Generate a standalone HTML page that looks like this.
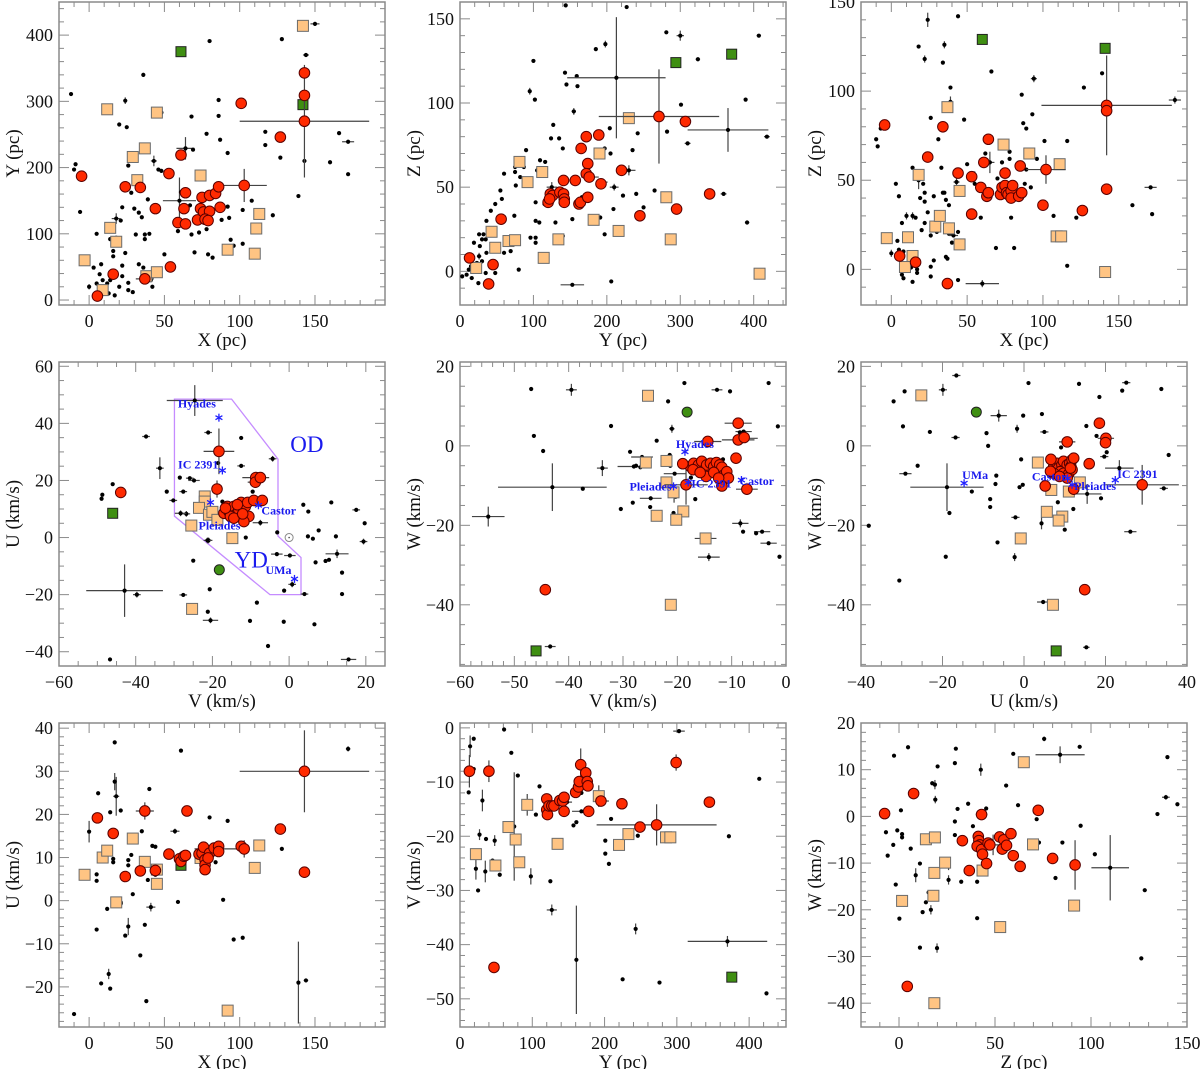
<!DOCTYPE html>
<html><head><meta charset="utf-8"><style>
html,body{margin:0;padding:0;background:#fff;}
svg{display:block;font-family:"Liberation Serif",serif;}
</style></head><body>
<svg id="chart" width="1200" height="1069" viewBox="0 0 1200 1069" xmlns="http://www.w3.org/2000/svg"></svg>
<script>
// ---- Panel 1: X vs Y ----
const p1Black=[[-12,311],[-10,197],[-9,205],[-6,133],[5,100],[3,49],[8,54],[7,39],[5,25],[9,30],[12,25],[14,30],[13,10],[17,7],[20,20],[22,36],[26,26],[26,15],[29,12],[22,52],[24,71],[16,66],[16,74],[14,92],[18,94],[22,140],[21,120],[18,123,3,8],[28,162],[26,203],[20,265],[25,261],[24,301,1,5],[36,340,0,3],[30,138],[33,132],[35,125],[31,99],[37,99],[40,100],[37,92],[39,152,0,3],[33,54],[36,49],[37,32,6,2],[41,30],[42,20],[43,210,2,8],[46,197],[48,195],[48,283],[50,69],[60,150,11,35],[61,163],[59,104],[67,143],[64,229,6,17],[68,277],[69,227],[70,72],[68,99],[73,102],[78,251],[78,107],[79,69],[82,64],[80,391],[86,302],[86,278],[87,242],[88,121],[92,141],[92,222],[93,124],[94,91],[96,82],[102,136],[102,85],[108,150],[117,254],[117,234],[122,128],[128,394],[127,215],[139,157],[143,210],[144,370,2,3],[150,417,3,2],[160,208],[166,252],[172,239,4,2],[172,190],[0,20,0,4]];
const p1Red=[[5.5,6],[16,39],[37,32],[54,50],[24,171],[34,170],[44,138],[53,191,3,7],[61,219],[64,162],[63,138],[59,117],[64,115],[72,121],[75,155],[74,138],[76,133],[80,158],[80,134],[77,122],[79,120],[84,161],[86,171],[87,140],[101,297],[103,173,15,25],[127,246],[143,270,43,85],[143,309],[143,343,0,8],[-5,187]];
const p1Tan=[[-3,60],[9,15],[14,109],[18,88],[32,181],[29,216],[37,229],[12,288],[45,283],[38,36],[45,42],[74,188],[92,76],[110,70],[111,108],[113,130],[142,414]];
const p1Green=[[61,375],[142,295]];
// ---- Panel 2: Y vs Z ----
const p2Black=[[3,-3],[9,-2],[16,-4],[25,-7],[35,-1],[15,3],[23,5],[12,1],[30,6],[36,11],[27,15],[30,19],[35,19],[26,22],[32,22],[19,17],[36,30],[42,36],[47,25],[48,-1],[48,40],[55,48],[57,43],[60,58],[60,11],[69,12],[74,33],[76,51],[75,59],[75,62],[80,1],[82,56],[87,62],[90,72],[96,20],[95,107,0,2],[100,125],[102,102],[103,41],[103,30],[103,20],[103,17],[105,60],[108,29],[109,66],[116,65],[115,40],[124,79],[127,87],[130,29],[135,79],[140,73],[140,21],[143,118],[145,111],[153,31],[159,116],[160,110],[166,44],[185,132],[191,32],[197,22],[197,73],[204,85],[205,70],[209,37],[206,-6],[222,45],[227,157],[235,72],[242,82],[240,46],[250,38],[265,48],[281,142],[282,83],[301,99],[324,126,3,0],[391,29,3,0],[407,140,3,0],[418,80,4,0],[389,102],[144,158],[359,46,4,0],[310,76,4,1],[213,115,67,36],[365,84,55,13],[153,-8,16,1],[300,140,5,3],[155,95,3,2],[198,135,2,2],[230,60,9,3],[193,53,8,2],[210,50,6,2],[125,50,7,3],[177,56,12,2],[26,9,3,2]];
const p2Red=[[13,8],[39,-7.5],[45,4],[56,31],[120,41],[123,46],[126,45],[122,43],[136,47],[141,46],[142,43],[141,54],[142,41],[157,54],[162,40],[164,41],[165,73],[172,80],[174,44],[174,64],[172,58],[176,56],[189,81],[192,52],[220,60],[245,33],[271,92,82,28],[295,37],[307,89,5,1],[340,46]];
const p2Tan=[[22,2],[43,23.5],[48,14],[66,18],[75,18.5],[81,65],[92,53],[112,59],[114,8],[134,19],[182,30.6],[190,70],[216,24],[230,91],[281,44],[287,19],[408,-1.4]];
const p2Green=[[294,124],[370,129]];
// ---- Panel 3: X vs Z ----
const p3Black=[[-10,73],[-9,69],[-7,79],[3,48],[5,41],[4,16],[5,11],[8,10],[0,9,0,2],[7,-3],[8,-5],[14,-7],[13,1],[16,2],[17,0],[17,-2],[7,26],[10,30,0,2],[14,30,0,2],[16,29],[14,57],[19,40],[21,48],[22,43],[22,38],[22,26],[20,22],[24,32],[26,-4],[26,1.5],[28,5],[26,19],[30,21],[28,41],[31,73],[26,85],[18,125],[22,118,0,2],[34,116],[35,126,0,2],[44,142],[33,57],[34,43],[35,43],[36,39],[36,7],[37,6],[38,36],[38,20],[40,20],[40,15],[44,21],[44,-6],[39,102],[39,94,0,3],[48,84],[50,59],[55,48],[59,29],[62,65],[69,12],[66,111],[70,51],[73,60],[78,66],[78,62],[79,29],[81,12],[86,98],[87,82],[89,79],[93,87],[94,107,2,2],[89,56],[88,48],[92,46],[96,62],[101,72],[107,30],[116,72],[116,2],[122,29],[127,102],[139,110],[159,36],[171,46,4,1],[172,31],[60,-8,11,2],[24,140,1,4],[187,95,4,2],[65,60,3,6],[18,50,1,5],[43,49,2,2],[41,19,3,1],[55,52,1,3]];
const p3Red=[[-4.4,81],[5.5,7.5],[16,4],[24,63],[34,80],[37,-8,3,0],[44,54],[53,52,3,3],[53,31],[59,46],[61,60],[63,41],[64,43],[64,73],[72,42],[73,46],[75,47],[75,54],[76,43],[77,42],[79,44],[79,40],[80,47],[84,41],[85,58],[86,43],[100,36],[102,56,13,8],[126,33],[142,92,43,28],[142,89],[142,45]];
const p3Tan=[[-3,17.5],[9,1.3],[11,18],[14,7.5],[18,53],[29,24],[32,30],[37,91],[38,23],[45,44],[45,14],[74,70],[91,65],[109,18.5],[112,18.5],[111,59],[141,-1.5]];
const p3Green=[[60,129],[141,124]];
// ---- Panel 4: V vs U ----
const p4Black=[[-37.3,35.4,1,0.7],[-48.9,13.6],[-48.7,15],[-46,18.7],[-46.7,-42.7],[-31.9,16.1],[-30.2,13,1,0.7],[-27.6,16.1,1,0],[-28.5,21],[-25.9,20.8,1,0],[-24.8,20,1.5,0],[-26.8,8.3,1,1],[-25,-8.1],[-27.6,-20.1,1,0],[-21.2,-26],[-21,-1,1,1],[-20.7,-18.1],[-21.1,36.8,1,0],[-18.5,26.1],[-17.4,12.6],[-12.5,34.9],[-12.5,25.1,1,0],[-11.3,0],[-10.2,-29.2],[-9.5,16.1],[-8.4,-22.8],[-5.5,-38],[-3.1,1.8],[-3.2,-5.8,1.5,0],[0.2,-6.3,1.5,0],[-1.3,-18.6],[-1.4,-29.5],[3.7,11.5],[5,9.1],[4.9,0.4],[6.2,-0.4],[6.9,-8.7],[7.7,2.5],[9.5,-8.2],[10.4,-7.8],[11,12.3],[12.2,0.4],[13.8,-12.3],[13.8,-19.8],[17.5,9.7,1,0],[19.7,5],[4,-19.8,1,0],[6.6,-30.4],[-19.6,8],[-42.9,-18.6,10,9.2],[-24.6,48,7.3,5.4],[-33.7,24.3,1,3.8],[-39.7,-20,1,1],[-20.5,-29,2,1],[-4.3,27.6,1,1],[12.5,-5.7,3,1.5],[0.8,-16.4,1,1],[19.4,-1.4,1,1],[15.5,-42.7,2,0],[-28.3,8.5,1.5,1],[-21.3,-1,1,1],[-7.5,5.2,2,1]];
const p4Red=[[-17,8.5],[-16.1,10.9],[-15.7,9.1],[-15.1,9.7],[-14.4,10.9],[-14,8],[-13.1,9.7],[-12.5,12.3],[-11.4,10.9],[-10.8,12.3],[-10.5,7.4],[-9.2,13],[-7,13],[-11.8,5.6],[-15.3,7.4],[-14.4,6.8],[-16.6,10.3],[-13.5,11.5],[-12.1,8.3],[-43.9,15.8],[-18.3,30.2,4,8],[-18.8,17,0,3],[-8.7,21,3.5,1],[-8.8,19.4,2,1],[-7.5,21]];
const p4Tan=[[-22,14.4],[-22,12.6],[-23.5,10.4],[-20.9,8],[-20,9],[-18.7,6.2],[-25.5,4.2],[-14.8,-0.2],[-25.3,-25]];
const p4Green=[[-46,8.5]];
const p4GreenCircle=[[-18.2,-11.3]];
const p4Poly=[[-29.9,48.5],[-15,48.5],[-2.9,27.5],[-2.9,0.5],[3.1,-7],[3.1,-20],[-5,-20],[-29.9,7.5]];
const p4Groups=["Hyades","IC 2391","Pleiades","Castor","UMa"];
const p4GroupV=[-18.3,-17.4,-20.5,-8,1.4];
const p4GroupU=[42,23.5,12.3,11.3,-14.5];
// ---- Panel 5: V vs W ----
const p5Black=[[-54.8,-17.8,3,2.5],[-43,-10.4,10,6],[-39.5,14.1,1,1.5],[-33.8,-5.6,1,2],[-43.4,-50.5,1,0],[-21,4.3,0.5,1],[-26.5,-2.8,2,0],[-28,-5.2,3,0],[-24.9,-13.2,2,0.5],[-20.5,-7,2,0],[-20.6,-12.5,0,1.8],[-14.2,-28,2,1],[-8.4,-19.5,1.5,1],[-7.2,1.9,2,0],[-7.8,3.6,1.5,0],[-3.2,-24.5,1.5,0],[-4.4,-21.6,1.5,0],[-12.7,14.1,1,0],[-46.9,14.3],[-46.4,2.5],[-44.7,-1.3],[-37.4,-10.8],[-32.2,5],[-30.4,-15.9],[-28.2,-14.3],[-28.7,-1.5],[-27.6,-5],[-26.8,-5.4],[-25,-15.4],[-23.8,1.3],[-21.7,11.2],[-21.4,-2.3],[-21.3,-5],[-20.7,-16.9],[-20.3,-12.8],[-18.7,15.8],[-17.5,-8],[-16.7,-13.4],[-11.6,-3.4],[-10.3,13.7],[-9.6,-3.7],[-7.9,-21.6],[-8.5,3.4],[-5.5,-22],[-3.2,15.8],[-1.5,4.9],[-1.2,-27.9]];
const p5Red=[[-17.6,-5.2],[-17,-4.4],[-16.5,-5.6],[-16.1,-4.8],[-15.5,-3.9],[-15,-6],[-14.6,-4.8],[-13.9,-4.4],[-13.3,-5.2],[-12.8,-4.2],[-12.2,-4.8],[-11.8,-5.4],[-11.4,-7.3],[-10.9,-6.5],[-10.6,-8.1],[-14.7,-7.7],[-11.8,-10.1],[-17.1,-6],[-15.8,-6.7],[-13.3,-6.7],[-12.4,-8.1],[-44.3,-36.2,1,0],[-19,-4.5],[-18.4,-9.8,4,5],[-14.4,1.1,2.5,1],[-8.8,5.7,2.5,1],[-8.8,1.5,3,0],[-7.7,2.1],[-9.2,-3.1],[-7.2,-10.9,2,0]];
const p5Tan=[[-25.4,12.6],[-25.8,-4.2],[-22,-3.8],[-22,-9.2],[-20.7,-11.7],[-23.8,-17.6],[-18.9,-16.5],[-20.2,-18.6],[-14.8,-23.3,2,1],[-21.2,-40]];
const p5Green=[[-46,-51.6]];
const p5GreenCircle=[[-18.2,8.5]];
const p5Groups=["Hyades","Pleiades","IC 2391","Castor"];
const p5GroupV=[-18.6,-20.7,-18,-8.2];
const p5GroupW=[-1.5,-10.2,-9.2,-8.6];
// ---- Panel 6: U vs W ----
const p6Black=[[-18.9,-10.4,9,6],[-19.9,14.1,1,1.5],[-6.2,7.6,2,1.5],[-1.7,4.3,0.5,1],[5,3.5,1,0],[-29.1,-7,1.5,0],[-16.8,2.1,1,0],[23.4,-5.6,3.5,2],[15.5,-12.1,3.5,2.5],[26.1,-21.6,1.5,0],[15.3,-50.7,0.8,0],[4.7,-39.3,1.5,0],[-2.3,-28,0,1],[4.3,-19.5,0,1.5],[19.7,-2.7,1,0],[-2.1,-18,1,0],[25.1,15.9,1,0],[-16.6,17.7,1,0],[34.3,-10.7,1,0],[-32,11.2],[-29.3,13.7],[-29.7,4.9],[-26.1,-5],[-38.1,-20.1],[-30.6,-33.9],[-23.1,3.5],[-19.2,-27.9],[-18.3,-16.9],[-12.8,-11.5],[-9.2,3.2],[-8.8,0],[-8.3,-13.4],[-8.3,-15.4],[-7,-9.6],[-6.8,-7.5],[-6.5,-24.3],[-1.1,-10.4],[-0.3,-9.8],[-0.7,-3.4],[-0.2,7.6],[1.1,15.8],[4.4,8],[10,-21.1],[9.1,-0.4],[8.3,-14.2],[12.1,-15.9],[13.5,15.6],[15.3,5],[17.8,2.5],[18.5,12.3],[20.3,-1.6],[18.9,-13.2],[24.1,13.9],[33.7,14.3],[35.5,-2.3]];
const p6Red=[[7.3,-5.2],[8.1,-4.4],[8.5,-5.6],[9.3,-4.8],[9.7,-3.9],[10.2,-6],[10.6,-4.8],[11.2,-4.4],[11.5,-5.2],[11.8,-3.5],[12.2,-3.1],[8.9,-6.5],[9.7,-6.9],[11,-7],[11.8,-6],[7.3,-6.9],[10.6,-8.1],[11.4,-5.6],[14.9,-36.2],[18.5,5.7,0,1],[20.1,1.9,2,1],[20,0.8],[10.6,1,2,0.8],[16,-4.5],[6.6,-3.4],[6.5,-6.4],[5.2,-10.1],[8.7,-7.7],[12.2,-10.9],[29,-9.8,9,5]];
const p6Tan=[[-25.2,12.7],[3.4,-4.2],[6.7,-11.1],[13.7,-9.2],[11,-11.5],[5.6,-16.6],[9.4,-17.8],[8.5,-18.8],[-0.8,-23.3,0,1],[7.1,-40]];
const p6Green=[[7.9,-51.6]];
const p6GreenCircle=[[-11.7,8.5]];
const p6Groups=["UMa","Castor","Pleiades","IC 2391"];
const p6GroupU=[-14.7,10.7,11.8,22.4];
const p6GroupW=[-9.4,-8.2,-9.8,-8.6];
// ---- Panel 7: X vs U ----
const p7Black=[[139,-19,0,9.5],[172,35.2,1.5,0.6],[18,24.2,2,4.5],[0,16,0,2.5],[41,-1.5,3,1],[57,16.1,3,0.6],[26,-6,0,2],[13,-17,0,1.2],[17,27.6,0,2],[87,12,17,0],[-10,-26.3],[5,-6.7],[5,4.6],[5,6.1],[6,24.9],[8,-19.2],[12,-1.9],[14,20.5],[14,-20.4],[16,8.9],[16,9.7],[17,36.7],[21,20.9],[21,-0.4],[21,-0.7],[24,-8.1],[26,8.2],[26,9.4],[28,10.6],[29,1.5],[31,14.1],[34,-12.7],[35,16.1],[37,-5.6],[38,-23.3],[39,4.8],[40,25.9],[42,12.7],[44,12.5],[44,6],[59,-0.3],[61,34.8],[80,19.3],[84,8.9],[89,0.2],[92,18.5],[96,-9],[102,-8.6],[128,12],[144,-18.5,1.5,0]];
const p7Red=[[5.5,19.2],[16,15.6],[24,5.6],[34,6.9],[37,20.8,6,2],[44,7],[53,10.8],[60,9.7],[61,9.1],[63,10.3],[64,10.5],[65,20.8,0,1],[73,10.8],[75,11],[76,12.4],[77,9.5],[77,8.3],[77,7.2],[80,11],[79,9.9],[83,12.2],[86,12.6],[86,11.4],[101,12.6],[103,12,0,2],[127,16.6],[143,30,43,9.5],[143,6.6]];
const p7Tan=[[-3,6],[9,10],[12,11.6],[29,14.4],[18,-0.4],[37,9],[45,3.9],[45,7.2],[74,9.9],[92,-25.5],[110,7.6],[113,12.8]];
const p7Green=[[61,8.2]];
// ---- Panel 8: Y vs V ----
const p8Black=[[161,-42.8,0,10],[75,-18.2,0,10],[127,-33.6,7,1],[370,-39.4,55,1],[303,-0.6,8,0],[243,-37.1,0,1],[424,-49,2,0],[14,-3.4,0,2],[31,-13.4,0,2],[22,-26,0,2],[35,-26.5,0,2],[27,-19.7,2,1],[48,-20.8,0,1],[198,-13.5,8,0],[168,-15.4,13,0],[148,-13.7,7,0],[98,-27.4,0,1.5],[12,-11.9],[19,-2],[19,-7.6],[25,-30],[36,-20.5],[45,-24.5],[55,-27.1],[61,-0.3],[71,-4.6],[80,-8.8],[105,-16],[110,-10.8],[125,-28.3],[157,-18],[161,-17.4],[168,-12],[209,-16.8],[201,-20.8],[201,-23.2],[206,-25.1],[225,-46.4],[246,-19.9],[276,-47],[372,-20],[414,-9.4]];
const p8Red=[[13,-8,0,3],[40,-8,0,2],[47,-44.2],[120,-13.1],[120,-15.1],[121,-16],[123,-14.4],[127,-14.4],[130,-14.4],[138,-13.4],[142,-13.5],[144,-12.8],[144,-15.4],[160,-11.9],[164,-10.9],[165,-9.9],[167,-6.8,0,3],[174,-8.3],[176,-9.9],[177,-10.7],[178,-15.4],[195,-13.5],[224,-14],[249,-18.3],[272,-17.9,83,3.8],[299,-6.4,0,1.5],[345,-13.7]];
const p8Tan=[[22,-23.3],[49,-25.4],[67,-18.3],[77,-20.6],[82,-24.8],[93,-14.2,0,2],[135,-21.4],[192,-12.6,0,2],[220,-21.6],[233,-19.6],[285,-20.2],[291,-20.2]];
const p8Green=[[376,-46]];
// ---- Panel 9: Z vs W ----
const p9Black=[[110,-11,9.8,7],[49,-6.1,9.7,2.2],[83.9,13.2,12.8,1.8],[42.6,10,0,1.3],[8.7,-12.6,0,1.5],[18.7,6.8,0,1],[18.9,3.6,1,0.8],[30.5,1.6,1,0],[19.8,-28.2,0,1],[16.6,-20,0,1],[75.6,16.6,1,0.5],[94.1,14.9,1,0],[94.6,-2,1,0],[102,-8.1,1,0],[126.2,-30.4,1,0],[128,-15.8,1,0],[139,4.1,2,0.5],[134.6,0.5,1,0],[145,2.6,1,0],[139.8,12.7],[25.8,-13.6,0,1],[25.8,-10.5,0,1],[-2.6,13],[4.7,14.8],[-6.8,-3.4],[-5.9,-8.4],[-3,-6.1],[-0.9,-3],[0.2,-21.9],[-1.7,-14.6],[1,1.3],[1.6,-3.8],[1.6,-4.5],[6.1,-6.9],[10.9,-10.1],[10.9,-28.1],[12.3,-20.5],[14,-18.4],[15.4,-16.3],[17.3,7.1],[20.1,10.7],[29.1,11.4],[29.6,14.5],[29.1,-1.1],[29.1,-4],[32.4,-14],[36,2.7],[38.5,-2.1],[40.7,-21.8],[40.7,-14],[45.4,1.7],[45.6,-11.2],[55.8,6.6],[59.5,13.4],[62,2.4],[71.7,-0.6],[72.9,-5.6],[81.5,-13.2],[85.1,-5.6]];
const p9Red=[[-7.5,0.6],[7.6,4.9,0,1.2],[4.3,-36.4],[33,-5.2],[36.6,-11.6],[43,0.4,3,1],[41.3,-4.3],[41.6,-5.2],[42.1,-6.1],[40.7,-6.4],[43,-7.1],[43.5,-8.1],[45.6,-10.1],[46.4,-5.7],[47.3,-6.1],[52.4,-4.4],[54.6,-5],[53.8,-7],[56,-6.2],[58.3,-3.7],[59.5,-8.4],[63.1,-10.7],[72.5,1.3,0,1],[80,-9],[91.7,-10.4,0,5.3]];
const p9Tan=[[1.6,-18.1],[14,-4.9],[18.7,-4.5],[18.4,-12.1],[17.9,-17],[18.4,-40],[24,-9.9],[43.5,-11.6],[52.7,-23.7,0,1],[65,11.6],[69.8,-6],[91.2,-19.1]];

const NS="http://www.w3.org/2000/svg";
const svg=document.getElementById('chart');
function mk(tag,attrs,parent){const e=document.createElementNS(NS,tag);for(const k in attrs)e.setAttribute(k,attrs[k]);(parent||svg).appendChild(e);return e;}
const bg=mk('rect',{x:0,y:0,width:1200,height:1069,fill:'#fff'});



const COLS=[[59,385],[460,786],[861,1187]];
const ROWS=[[2,305],[362,666],[723,1027]];
function fmt(v){return v<0?'\u2212'+Math.abs(v):String(v);}

const panels=[
 {id:'xy',c:0,r:0,x0:-20,x1:196.5,y0:-7.5,y1:450,xt:[0,50,100,150],xm:10,yt:[0,100,200,300,400],ym:20,xl:'X (pc)',yl:'Y (pc)',black:p1Black,red:p1Red,tan:p1Tan,green:p1Green},
 {id:'yz',c:1,r:0,x0:0,x1:444,y0:-20,y1:160,xt:[0,100,200,300,400],xm:20,yt:[0,50,100,150],ym:10,xl:'Y (pc)',yl:'Z (pc)',black:p2Black,red:p2Red,tan:p2Tan,green:p2Green},
 {id:'xz',c:2,r:0,x0:-20,x1:195,y0:-20,y1:150,xt:[0,50,100,150],xm:10,yt:[0,50,100,150],ym:10,xl:'X (pc)',yl:'Z (pc)',black:p3Black,red:p3Red,tan:p3Tan,green:p3Green},
 {id:'vu',c:0,r:1,x0:-60,x1:25,y0:-45,y1:61.5,xt:[-60,-40,-20,0,20],xm:5,yt:[-40,-20,0,20,40,60],ym:5,xl:'V (km/s)',yl:'U (km/s)',black:p4Black,red:p4Red,tan:p4Tan,green:p4Green,gc:p4GreenCircle,poly:p4Poly,gn:p4Groups,gx:p4GroupV,gy:p4GroupU},
 {id:'vw',c:1,r:1,x0:-60,x1:0,y0:-55.4,y1:21.1,xt:[-60,-50,-40,-30,-20,-10,0],xm:2,yt:[-40,-20,0,20],ym:5,xl:'V (km/s)',yl:'W (km/s)',black:p5Black,red:p5Red,tan:p5Tan,green:p5Green,gc:p5GreenCircle,gn:p5Groups,gx:p5GroupV,gy:p5GroupW},
 {id:'uw',c:2,r:1,x0:-40,x1:40,y0:-55.4,y1:21.1,xt:[-40,-20,0,20,40],xm:5,yt:[-40,-20,0,20],ym:5,xl:'U (km/s)',yl:'W (km/s)',black:p6Black,red:p6Red,tan:p6Tan,green:p6Green,gc:p6GreenCircle,gn:p6Groups,gx:p6GroupU,gy:p6GroupW},
 {id:'xu',c:0,r:2,x0:-20,x1:196.5,y0:-29.3,y1:41.2,xt:[0,50,100,150],xm:10,yt:[-20,-10,0,10,20,30,40],ym:2,xl:'X (pc)',yl:'U (km/s)',black:p7Black,red:p7Red,tan:p7Tan,green:p7Green},
 {id:'yv',c:1,r:2,x0:0,x1:451,y0:-55.2,y1:0.9,xt:[0,100,200,300,400],xm:20,yt:[-50,-40,-30,-20,-10,0],ym:2,xl:'Y (pc)',yl:'V (km/s)',black:p8Black,red:p8Red,tan:p8Tan,green:p8Green},
 {id:'zw',c:2,r:2,x0:-19.8,x1:150,y0:-45.1,y1:20,xt:[0,50,100,150],xm:10,yt:[-40,-30,-20,-10,0,10,20],ym:2,xl:'Z (pc)',yl:'W (km/s)',black:p9Black,red:p9Red,tan:p9Tan,green:[]}
];

panels.forEach(p=>{
 const L=COLS[p.c][0],R=COLS[p.c][1],T=ROWS[p.r][0],B=ROWS[p.r][1];
 const sx=v=>L+(v-p.x0)/(p.x1-p.x0)*(R-L);
 const sy=v=>B-(v-p.y0)/(p.y1-p.y0)*(B-T);
 const g=mk('g',{});
 
 
 const fr=mk('rect',{x:L,y:T,width:R-L,height:B-T,fill:'none',stroke:'#8a8a8a','stroke-width':1.5},g);
 
 
 const tg=mk('g',{stroke:'#8a8a8a','stroke-width':1},g);
 
 
 const xs=Math.ceil(p.x0/p.xm)*p.xm;
 for(let v=xs;v<=p.x1+1e-9;v+=p.xm){const x=sx(v);const maj=p.xt.some(t=>Math.abs(t-v)<1e-6);const len=maj?10:5;
  mk('line',{x1:x,y1:B,x2:x,y2:B-len},tg);mk('line',{x1:x,y1:T,x2:x,y2:T+len},tg);}
 const ys=Math.ceil(p.y0/p.ym)*p.ym;
 for(let v=ys;v<=p.y1+1e-9;v+=p.ym){const y=sy(v);const maj=p.yt.some(t=>Math.abs(t-v)<1e-6);const len=maj?10:5;
  mk('line',{x1:L,y1:y,x2:L+len,y2:y},tg);mk('line',{x1:R,y1:y,x2:R-len,y2:y},tg);}
 p.xt.forEach(v=>{const t=mk('text',{x:sx(v),y:B+22,'text-anchor':'middle','font-size':18,fill:'#111'},g);t.textContent=fmt(v);
  
  });
 p.yt.forEach(v=>{const t=mk('text',{x:L-6,y:sy(v)+6,'text-anchor':'end','font-size':18,fill:'#111'},g);t.textContent=fmt(v);
  
  });
 const xt=mk('text',{x:(L+R)/2,y:B+41,'text-anchor':'middle','font-size':19,fill:'#111'},g);xt.textContent=p.xl;
 
 
 const yx=L-40,yy=(T+B)/2;
 const yt=mk('text',{x:yx,y:yy,'text-anchor':'middle','font-size':19,fill:'#111',transform:`rotate(-90 ${yx} ${yy})`},g);yt.textContent=p.yl;
 
 
 if(p.poly){const pts=p.poly.map(q=>sx(q[0])+','+sy(q[1])).join(' ');
  const pg=mk('polygon',{points:pts,fill:'none',stroke:'#c58cff','stroke-width':1.3},g);
  
  
  const od=mk('text',{x:sx(0.3),y:sy(30),'font-size':23,fill:'#1a1aee'},g);od.textContent='OD';
  
  
  const yd=mk('text',{x:sx(-14.2),y:sy(-10.5),'font-size':23,fill:'#1a1aee'},g);yd.textContent='YD';
  
  
  const sun=mk('circle',{cx:sx(0),cy:sy(0),r:4,fill:'none',stroke:'#888'},g);
  
  
  mk('circle',{cx:sx(0),cy:sy(0),r:0.8,fill:'#444'},g);}
 function ebar(d,gg){if(d.length>2){const x=sx(d[0]),y=sy(d[1]);
  if(d[2])mk('line',{x1:sx(d[0]-d[2]),y1:y,x2:sx(d[0]+d[2]),y2:y,stroke:'#444','stroke-width':1.2},gg);
  if(d[3])mk('line',{x1:x,y1:sy(d[1]-d[3]),x2:x,y2:sy(d[1]+d[3]),stroke:'#444','stroke-width':1.2},gg);}}
 const bgp=mk('g',{},g);
 
 
 p.black.forEach(d=>{ebar(d,bgp);const c=mk('circle',{cx:sx(d[0]),cy:sy(d[1]),r:2.1,fill:'#000'},bgp);
  
  });
 const tgp=mk('g',{},g);
 
 
 p.tan.forEach(d=>{ebar(d,tgp);const s=mk('rect',{x:sx(d[0])-5.5,y:sy(d[1])-5.5,width:11,height:11,fill:'#ffc483',stroke:'#6b6b6b','stroke-width':1},tgp);
  
  });
 const ggp=mk('g',{},g);
 
 
 p.green.forEach(d=>{const s=mk('rect',{x:sx(d[0])-5,y:sy(d[1])-5,width:10,height:10,fill:'#3f8f12',stroke:'#222','stroke-width':1},ggp);
  
  });
 (p.gc||[]).forEach(d=>{const s=mk('circle',{cx:sx(d[0]),cy:sy(d[1]),r:5,fill:'#3f8f12',stroke:'#222','stroke-width':1},ggp);
  
  });
 const rgp=mk('g',{},g);
 
 
 p.red.forEach(d=>ebar(d,rgp));
 p.red.forEach(d=>{const s=mk('circle',{cx:sx(d[0]),cy:sy(d[1]),r:5.3,fill:'#ff2a00',stroke:'#5a0000','stroke-width':1},rgp);
  
  });
 if(p.gn){const mg=mk('g',{},g);
  
  
  p.gn.forEach((n,i)=>{const x=sx(p.gx[i]),y=sy(p.gy[i]);
   for(let a=0;a<3;a++){const an=a*Math.PI/3+Math.PI/2;mk('line',{x1:x-4*Math.cos(an),y1:y-4*Math.sin(an),x2:x+4*Math.cos(an),y2:y+4*Math.sin(an),stroke:'#2020ff','stroke-width':1.3},mg);}
   let tx=x-4,ty=y-7,anc='end';
   if(p.id==='vu'){if(n==='Hyades'){tx=x-3;ty=y-10;}else if(n==='IC 2391'){tx=x-4;ty=y-2;}else if(n==='Pleiades'){tx=x+30;ty=y+27;}else if(n==='Castor'){tx=x+3;ty=y+9;anc='start';}else{tx=x-3;ty=y-5;}}
   if(p.id==='vw'){if(n==='Hyades'){tx=x+10;ty=y-4;anc='middle';}else if(n==='Pleiades'){tx=x-2;ty=y+4;}else if(n==='IC 2391'){tx=x+3;ty=y+5;anc='start';}else{tx=x-2;ty=y+5;anc='start';}}
   if(p.id==='uw'){if(n==='UMa'){tx=x-2;ty=y-4;anc='start';}else if(n==='Castor'){tx=x-1;ty=y+2;}else if(n==='Pleiades'){tx=x+2;ty=y+5;anc='start';}else{tx=x+2;ty=y-2;anc='start';}}
   const t=mk('text',{x:tx,y:ty,'text-anchor':anc,'font-size':12,'font-weight':'bold',fill:'#1a1aee'},mg);t.textContent=n;
   
   });}
});
</script>
</body></html>
